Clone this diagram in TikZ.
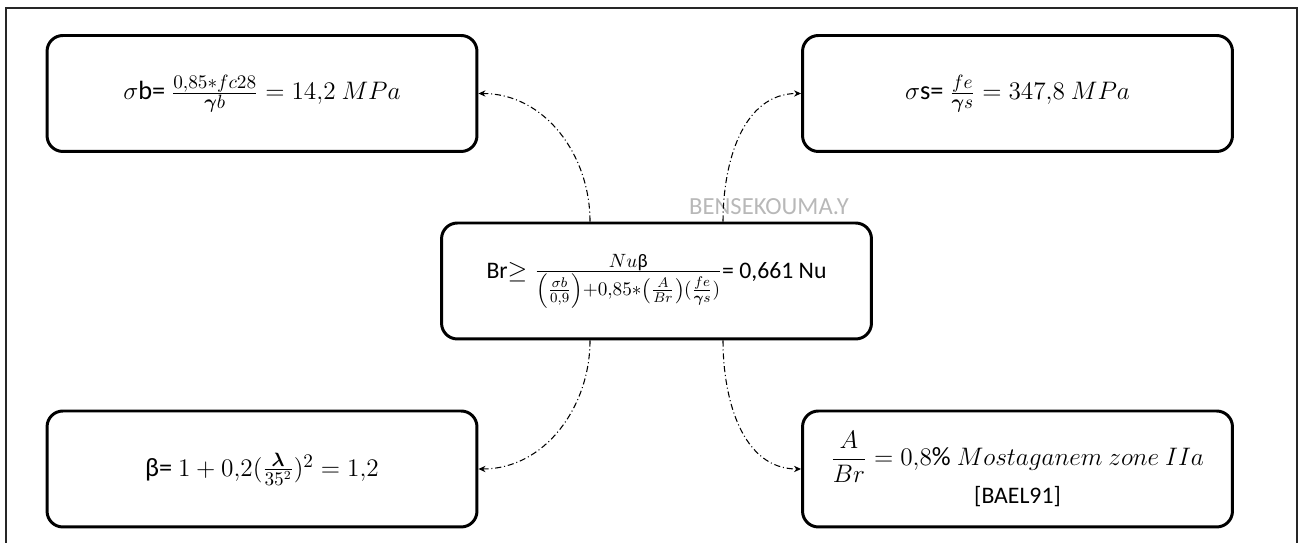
\documentclass[tikz,border=0pt]{standalone}
\usepackage{amsmath}
\usepackage{fontspec}
\setmainfont{Carlito}
\usetikzlibrary{arrows.meta,calc}
\begin{document}
\begin{tikzpicture}[x=0.02cm,y=0.02cm,
  box/.style={draw, line width=1.7pt, rounded corners=9pt, minimum width=8.6cm, minimum height=2.32cm, inner sep=0pt, align=center, font=\fontsize{15}{18}\selectfont},
  conn/.style={line width=0.6pt, dash pattern=on 3.5pt off 1.6pt on 0.6pt off 1.6pt, -{Stealth[length=4pt,width=3.6pt]}},
  frameline/.style={line width=1pt, draw=black!85},
  wmark/.style={text=black!28, font=\fontsize{14}{16}\selectfont, inner sep=0pt}]
\useasboundingbox (0,0) rectangle (1304,543);
\draw[frameline] (6,0) -- (6,535) -- (1297,535) -- (1297,0);
\node[wmark] (wm) at (769,336) {BENSEKOUMA.Y};
\node[box] (tl) at (262,449.5) {$\sigma$b= $\frac{0{,}85{*}fc28}{\boldsymbol{\gamma} b} = 14{,}2\ MPa$};
\node[box] (tr) at (1017.5,449.5) {$\sigma$s= $\frac{fe}{\boldsymbol{\gamma} s} = 347{,}8\ MPa$};
\node[box, font=\fontsize{13.5}{16}\selectfont] (c) at (656.5,262) {Br{\fontsize{15.5}{18}\selectfont$\geq \frac{Nu\text{β}}{\left(\frac{\sigma b}{0{,}9}\right){+}0{,}85{*}\left(\frac{A}{Br}\right)(\frac{fe}{\boldsymbol{\gamma} s})}$}= 0,661 Nu};
\node[box] (bl) at (262,74) {β= $1 + 0{,}2(\frac{\boldsymbol{\lambda}}{35^2})^2 = 1{,}2$};
\node[box] (br) at (1017.5,74) {$\displaystyle\frac{A}{Br} = 0{,}8\%\ Mostaganem\ zone\ IIa$\\[1pt]{\fontsize{13.5}{16}\selectfont [BAEL91]}};
\coordinate (c1) at ([xshift=-1.33cm]c.north);
\coordinate (c2) at ([xshift=1.33cm]c.north);
\coordinate (c3) at ([xshift=-1.33cm]c.south);
\coordinate (c4) at ([xshift=1.33cm]c.south);
\draw[conn] (c1) to[out=90,in=0] (tl.east);
\draw[conn] (c2) to[out=90,in=180] (tr.west);
\draw[conn] (c3) to[out=-90,in=0] (bl.east);
\draw[conn] (c4) to[out=-90,in=180] (br.west);
\end{tikzpicture}
\end{document}
